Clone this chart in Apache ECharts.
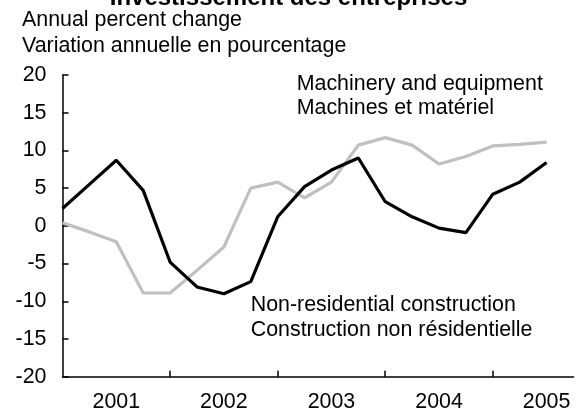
<!DOCTYPE html>
<html>
<head>
<meta charset="utf-8">
<script src="https://cdn.jsdelivr.net/npm/echarts@6/dist/echarts.min.js"></script>
<style>html,body{margin:0;padding:0;background:#fff}#c{width:577px;height:409px}</style>
</head>
<body>
<div id="c"></div>
<script>
// Quarterly categories 2001Q1 .. 2005Q4 (last one is empty, axis extension)
var quarters = ['2001Q1','2001Q2','2001Q3','2001Q4','2002Q1','2002Q2','2002Q3','2002Q4','2003Q1','2003Q2','2003Q3','2003Q4','2004Q1','2004Q2','2004Q3','2004Q4','2005Q1','2005Q2','2005Q3','2005Q4'];
var yearLabels = ['2001','2002','2003','2004','2005'];
var nonResidential = [2.3, 5.5, 8.7, 4.7, -4.8, -8.1, -9.0, -7.4, 1.2, 5.2, 7.4, 9.0, 3.2, 1.2, -0.3, -0.9, 4.2, 5.8, 8.4];
var machinery = [0.4, -0.8, -2.1, -8.9, -8.9, -5.9, -2.8, 5.0, 5.8, 3.7, 5.8, 10.7, 11.7, 10.7, 8.2, 9.2, 10.6, 10.8, 11.1];
var yTicks = [-20, -15, -10, -5, 0, 5, 10, 15, 20];

var FONT = "'Liberation Sans', Arial, Helvetica, sans-serif";
var FS = 21.4;
var chart = echarts.init(document.getElementById('c'), null, {renderer: 'canvas'});
function txt(x, y, s, size, weight) {
  return {type: 'text', left: x, top: y, style: {text: s, fontFamily: FONT, fontSize: size, fontWeight: weight || 'normal', fill: '#000'}};
}
chart.setOption({
  animation: false,
  backgroundColor: '#fff',
  grid: {left: 62.5, top: 75, width: 511, height: 301.7, containLabel: false, outerBoundsMode: 'none'},
  xAxis: {
    type: 'category',
    data: quarters,
    boundaryGap: false,
    axisLine: {onZero: false, lineStyle: {color: '#000', width: 1.5}},
    axisTick: {inside: true, length: 6, lineStyle: {color: '#000', width: 1.5},
      interval: function (i) { return i > 0 && i % 4 === 0; }},
    axisLabel: {interval: function (i) { return i % 4 === 2; }, color: '#000', fontFamily: FONT, fontSize: FS, margin: 15,
      formatter: function (v) { return yearLabels[yearLabels.indexOf(v.slice(0, 4))]; }},
    splitLine: {show: false}
  },
  yAxis: {
    type: 'value', min: yTicks[0], max: yTicks[yTicks.length - 1], interval: 5,
    axisLine: {show: true, lineStyle: {color: '#000', width: 1.5}},
    axisTick: {show: true, inside: true, length: 6, lineStyle: {color: '#000', width: 1.5}},
    axisLabel: {color: '#000', fontFamily: FONT, fontSize: FS, margin: 16},
    splitLine: {show: false}
  },
  series: [
    {type: 'line', name: 'Machinery and equipment', data: machinery, symbol: 'none', z: 2,
      lineStyle: {color: '#c0c0c0', width: 3.2}},
    {type: 'line', name: 'Non-residential construction', data: nonResidential, symbol: 'none', z: 3,
      lineStyle: {color: '#000', width: 3.2}}
  ],
  graphic: [
    txt('center', -14, 'Investissement des entreprises', 24, 'bold'),
    txt(22, 9.5, 'Annual percent change', FS),
    txt(22, 35.5, 'Variation annuelle en pourcentage', FS),
    txt(296.7, 74, 'Machinery and equipment', FS),
    txt(296.7, 97.5, 'Machines et matériel', FS),
    txt(250.7, 294.5, 'Non-residential construction', FS),
    txt(250.7, 319.5, 'Construction non résidentielle', FS)
  ]
});
</script>
</body>
</html>
